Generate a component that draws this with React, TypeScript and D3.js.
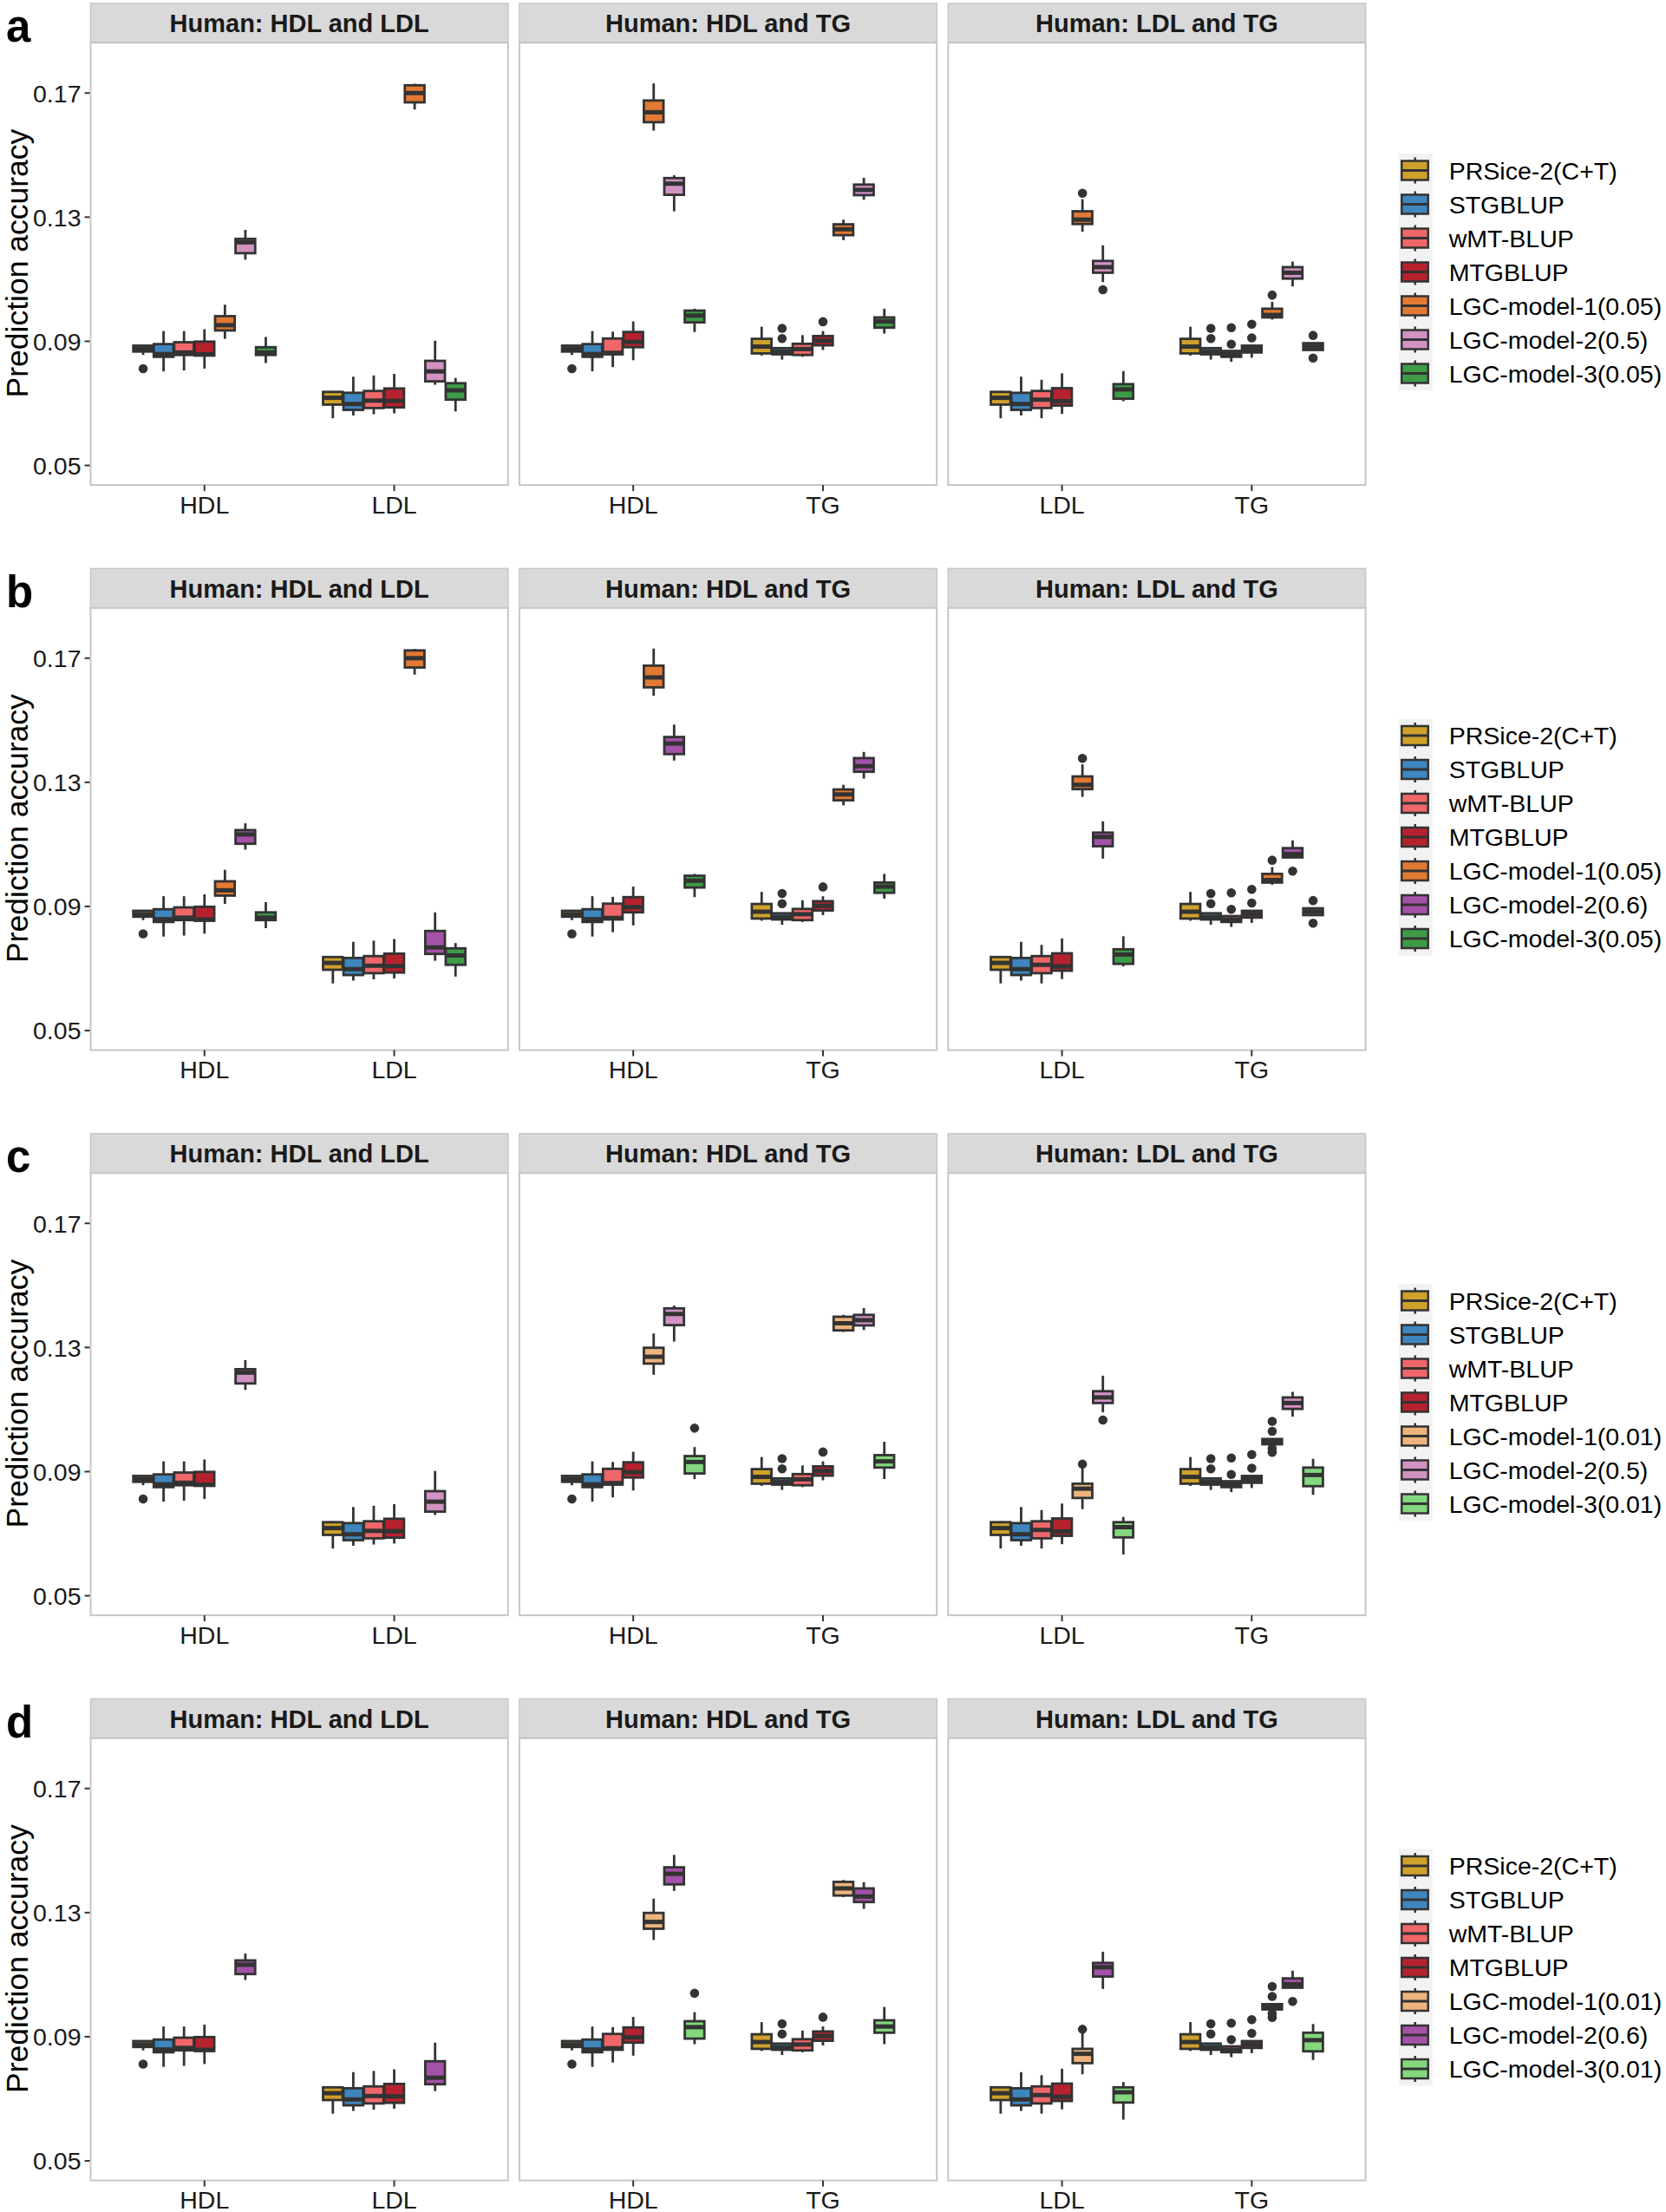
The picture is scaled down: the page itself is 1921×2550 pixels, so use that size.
import React from 'react';
import * as d3 from 'd3';

// facets and their two traits
const FACETS = ['Human: HDL and LDL', 'Human: HDL and TG', 'Human: LDL and TG'];
const FACET_TRAITS = [['HDL', 'LDL'], ['HDL', 'TG'], ['LDL', 'TG']];
const Y_TICKS = [0.05, 0.09, 0.13, 0.17];
const PANEL_LABELS = ['a', 'b', 'c', 'd'];

// box stats per facet/trait: [lower whisker, q1, median, q3, upper whisker]
// order: HDL&LDL:HDL, HDL&LDL:LDL, HDL&TG:HDL, HDL&TG:TG, LDL&TG:LDL, LDL&TG:TG
const PRS_STATS = [
  [0.0856, 0.0867, 0.0875, 0.0886, 0.0887],
  [0.0652, 0.0696, 0.0718, 0.0737, 0.0740],
  [0.0856, 0.0867, 0.0875, 0.0886, 0.0887],
  [0.0854, 0.0861, 0.0883, 0.0908, 0.0947],
  [0.0652, 0.0696, 0.0718, 0.0737, 0.0740],
  [0.0854, 0.0861, 0.0883, 0.0908, 0.0947],
];
const PRS_OUT = [[0.0812], [], [0.0812], [], [], []];

const ST_STATS = [
  [0.0803, 0.0850, 0.0859, 0.0891, 0.0933],
  [0.0661, 0.0679, 0.0698, 0.0734, 0.0786],
  [0.0803, 0.0850, 0.0859, 0.0891, 0.0933],
  [0.0841, 0.0858, 0.0866, 0.0878, 0.0878],
  [0.0661, 0.0679, 0.0698, 0.0734, 0.0786],
  [0.0841, 0.0858, 0.0866, 0.0878, 0.0878],
];
const ST_OUT = [[], [], [], [0.0942, 0.0909], [], [0.0942, 0.0909]];

const WMT_STATS = [
  [0.0806, 0.0856, 0.0864, 0.0897, 0.0933],
  [0.0665, 0.0685, 0.0709, 0.0740, 0.0790],
  [0.0817, 0.0858, 0.0863, 0.0909, 0.0931],
  [0.0850, 0.0856, 0.0875, 0.0892, 0.0920],
  [0.0652, 0.0685, 0.0712, 0.0740, 0.0776],
  [0.0834, 0.0850, 0.0858, 0.0869, 0.0869],
];
const WMT_OUT = [[], [], [], [], [], [0.0944, 0.0891]];

const MT_STATS = [
  [0.0812, 0.0854, 0.0858, 0.0899, 0.0939],
  [0.0668, 0.0687, 0.0708, 0.0748, 0.0795],
  [0.0839, 0.0881, 0.0898, 0.0930, 0.0964],
  [0.0872, 0.0887, 0.0902, 0.0917, 0.0933],
  [0.0666, 0.0693, 0.0707, 0.0749, 0.0797],
  [0.0847, 0.0864, 0.0875, 0.0886, 0.0886],
];
const MT_OUT = [[], [], [], [0.0963], [], [0.0955, 0.0911]];

const LGC1_05_STATS = [
  [0.0908, 0.0935, 0.0952, 0.0981, 0.1018],
  [0.1647, 0.1670, 0.1700, 0.1725, 0.1730],
  [0.1579, 0.1606, 0.1638, 0.1676, 0.1731],
  [0.1226, 0.1242, 0.1261, 0.1277, 0.1292],
  [0.1253, 0.1278, 0.1292, 0.1319, 0.1358],
  [0.0970, 0.0977, 0.0985, 0.1005, 0.1027],
];
const LGC1_05_OUT = [[], [], [], [], [0.1377], [0.1049]];

const LGC2_05_STATS = [
  [0.1163, 0.1184, 0.1219, 0.1230, 0.1259],
  [0.0760, 0.0771, 0.0803, 0.0837, 0.0902],
  [0.1319, 0.1372, 0.1408, 0.1426, 0.1435],
  [0.1356, 0.1371, 0.1388, 0.1405, 0.1427],
  [0.1091, 0.1121, 0.1139, 0.1159, 0.1209],
  [0.1077, 0.1102, 0.1121, 0.1139, 0.1157],
];
const LGC2_05_OUT = [[], [], [], [], [0.1066], []];

const LGC3_05_STATS = [
  [0.0830, 0.0856, 0.0864, 0.0881, 0.0914],
  [0.0674, 0.0712, 0.0742, 0.0765, 0.0782],
  [0.0930, 0.0961, 0.0983, 0.0999, 0.1005],
  [0.0925, 0.0944, 0.0964, 0.0977, 0.1005],
  [0.0707, 0.0715, 0.0745, 0.0762, 0.0804],
  [0.0872, 0.0872, 0.0883, 0.0894, 0.0894],
];
const LGC3_05_OUT = [[], [], [], [], [], [0.0919, 0.0846]];

const LGC2_06_STATS = [
  [0.1083, 0.1102, 0.1132, 0.1146, 0.1168],
  [0.0725, 0.0747, 0.0768, 0.0821, 0.0881],
  [0.1370, 0.1391, 0.1425, 0.1446, 0.1486],
  [0.1312, 0.1334, 0.1352, 0.1378, 0.1398],
  [0.1054, 0.1094, 0.1124, 0.1138, 0.1174],
  [0.1058, 0.1058, 0.1069, 0.1088, 0.1113],
];
const LGC2_06_OUT = [[], [], [], [], [], [0.1014]];

const LGC1_01_STATS = [
  null,
  null,
  [0.1212, 0.1248, 0.1270, 0.1299, 0.1345],
  [0.1350, 0.1355, 0.1378, 0.1399, 0.1405],
  [0.0779, 0.0815, 0.0845, 0.0861, 0.0911],
  [0.0988, 0.0988, 0.0996, 0.1005, 0.1005],
];
const LGC1_01_OUT = [[], [], [], [], [0.0924], [0.1062, 0.1030, 0.0975, 0.0962]];

const LGC3_01_STATS = [
  null,
  null,
  [0.0876, 0.0894, 0.0931, 0.0950, 0.0979],
  [0.0876, 0.0913, 0.0933, 0.0953, 0.0996],
  [0.0633, 0.0688, 0.0721, 0.0737, 0.0754],
  [0.0825, 0.0853, 0.0889, 0.0913, 0.0941],
];
const LGC3_01_OUT = [[], [], [0.1040], [], [], []];

type Method = { label: string; color: string; stats: (number[] | null)[]; out: number[][] };

const PRS: Method = { label: 'PRSice-2(C+T)', color: '#CFA12A', stats: PRS_STATS, out: PRS_OUT };
const ST: Method = { label: 'STGBLUP', color: '#3F86BE', stats: ST_STATS, out: ST_OUT };
const WMT: Method = { label: 'wMT-BLUP', color: '#F0676A', stats: WMT_STATS, out: WMT_OUT };
const MT: Method = { label: 'MTGBLUP', color: '#B5222E', stats: MT_STATS, out: MT_OUT };
const L1A: Method = { label: 'LGC-model-1(0.05)', color: '#E27A33', stats: LGC1_05_STATS, out: LGC1_05_OUT };
const L2A: Method = { label: 'LGC-model-2(0.5)', color: '#D293C2', stats: LGC2_05_STATS, out: LGC2_05_OUT };
const L3A: Method = { label: 'LGC-model-3(0.05)', color: '#3E9C47', stats: LGC3_05_STATS, out: LGC3_05_OUT };
const L2B: Method = { label: 'LGC-model-2(0.6)', color: '#A352A8', stats: LGC2_06_STATS, out: LGC2_06_OUT };
const L1C: Method = { label: 'LGC-model-1(0.01)', color: '#EDB47E', stats: LGC1_01_STATS, out: LGC1_01_OUT };
const L3C: Method = { label: 'LGC-model-3(0.01)', color: '#84D77E', stats: LGC3_01_STATS, out: LGC3_01_OUT };

const ROWS: Method[][] = [
  [PRS, ST, WMT, MT, L1A, L2A, L3A],
  [PRS, ST, WMT, MT, L1A, L2B, L3A],
  [PRS, ST, WMT, MT, L1C, L2A, L3C],
  [PRS, ST, WMT, MT, L1C, L2B, L3C],
];

const FONT = '"Liberation Sans", Arial, Helvetica, sans-serif';
const DARK = '#333333';

const ROW_H = 651.5;
const PANEL_TOP = 49.3;
const PANEL_BOTTOM = 559.1;
const STRIP_TOP = 3.9;

const y = d3.scaleLinear().domain([0.0437, 0.1862]).range([PANEL_BOTTOM, PANEL_TOP]);
const facetX = d3.scaleBand<string>().domain(FACETS).range([104.5, 1574.6]).paddingInner(0.0265);

const Row: React.FC<{ methods: Method[]; label: string }> = ({ methods, label }) => {
  const bw = facetX.bandwidth();
  const slots = methods.map((_, i) => String(i));
  return (
    <g>
      <text x={7} y={48} fontSize={51} fontWeight="bold" fill="#000">{label}</text>
      <text
        transform={`translate(32,${303.6}) rotate(-90)`}
        textAnchor="middle"
        fontSize={35.5}
        fill="#000"
      >
        Prediction accuracy
      </text>
      {Y_TICKS.map(t => (
        <g key={t}>
          <line x1={97.6} x2={104.5} y1={y(t)} y2={y(t)} stroke={DARK} strokeWidth={2} />
          <text x={93.5} y={y(t)} dy="0.36em" textAnchor="end" fontSize={28.5} fill="#1a1a1a">
            {t.toFixed(2)}
          </text>
        </g>
      ))}
      {FACETS.map((facet, fi) => {
        const x0 = facetX(facet) as number;
        const cat = d3.scalePoint<string>().domain(FACET_TRAITS[fi]).range([0, bw]).padding(0.6);
        const step = cat.step();
        const dodge = d3.scaleBand<string>().domain(slots).range([-0.375 * step, 0.375 * step]).paddingInner(0.04);
        return (
          <g key={facet} transform={`translate(${x0},0)`}>
            <rect x={0} y={STRIP_TOP} width={bw} height={PANEL_TOP - STRIP_TOP} fill="#D9D9D9" stroke="#C6C6C6" strokeWidth={1.5} />
            <text x={bw / 2} y={(STRIP_TOP + PANEL_TOP) / 2} dy="0.36em" textAnchor="middle" fontSize={29} fontWeight="bold" fill="#1a1a1a">
              {facet}
            </text>
            <rect x={0} y={PANEL_TOP} width={bw} height={PANEL_BOTTOM - PANEL_TOP} fill="#fff" stroke="#C6C6C6" strokeWidth={2} />
            {FACET_TRAITS[fi].map((trait, ti) => {
              const cx0 = cat(trait) as number;
              const idx = fi * 2 + ti;
              return (
                <g key={trait}>
                  <line x1={cx0} x2={cx0} y1={PANEL_BOTTOM} y2={PANEL_BOTTOM + 7} stroke={DARK} strokeWidth={2} />
                  <text x={cx0} y={591.5} textAnchor="middle" fontSize={28.5} fill="#1a1a1a">{trait}</text>
                  {methods.map((m, mi) => {
                    const s = m.stats[idx];
                    if (!s) return null;
                    const left = cx0 + (dodge(String(mi)) as number);
                    const w = dodge.bandwidth();
                    const cx = left + w / 2;
                    const [lo, q1, med, q3, hi] = s;
                    return (
                      <g key={mi}>
                        <line x1={cx} x2={cx} y1={y(q3)} y2={y(hi)} stroke={DARK} strokeWidth={2.8} />
                        <line x1={cx} x2={cx} y1={y(q1)} y2={y(lo)} stroke={DARK} strokeWidth={2.8} />
                        <rect x={left} y={y(q3)} width={w} height={Math.max(0.5, y(q1) - y(q3))} fill={m.color} stroke={DARK} strokeWidth={2.8} />
                        <line x1={left} x2={left + w} y1={y(med)} y2={y(med)} stroke={DARK} strokeWidth={5} />
                        {m.out[idx].map((o, oi) => (
                          <circle key={oi} cx={cx} cy={y(o)} r={5.3} fill={DARK} />
                        ))}
                      </g>
                    );
                  })}
                </g>
              );
            })}
          </g>
        );
      })}
      <g transform="translate(1612.7,177)">
        <rect x={0} y={0} width={39} height={methods.length * 39} fill="#F2F2F2" />
        {methods.map((m, i) => {
          const cy = i * 39 + 19.5;
          return (
            <g key={m.label}>
              <line x1={19} x2={19} y1={cy - 15} y2={cy + 15} stroke={DARK} strokeWidth={2.5} />
              <rect x={3.5} y={cy - 11} width={30.5} height={22} fill={m.color} stroke={DARK} strokeWidth={2.5} />
              <line x1={3.5} x2={34} y1={cy} y2={cy} stroke={DARK} strokeWidth={3} />
              <text x={58} y={cy} dy="0.36em" fontSize={28.5} fill="#000">{m.label}</text>
            </g>
          );
        })}
      </g>
    </g>
  );
};

export default function App() {
  return (
    <div style={{ position: 'absolute', left: 0, top: 0 }}>
      <svg width={1921} height={2550} style={{ display: 'block', background: '#fff' }} fontFamily={FONT}>
        {ROWS.map((methods, r) => (
          <g key={r} transform={`translate(0,${r * ROW_H})`}>
            <Row methods={methods} label={PANEL_LABELS[r]} />
          </g>
        ))}
      </svg>
    </div>
  );
}
